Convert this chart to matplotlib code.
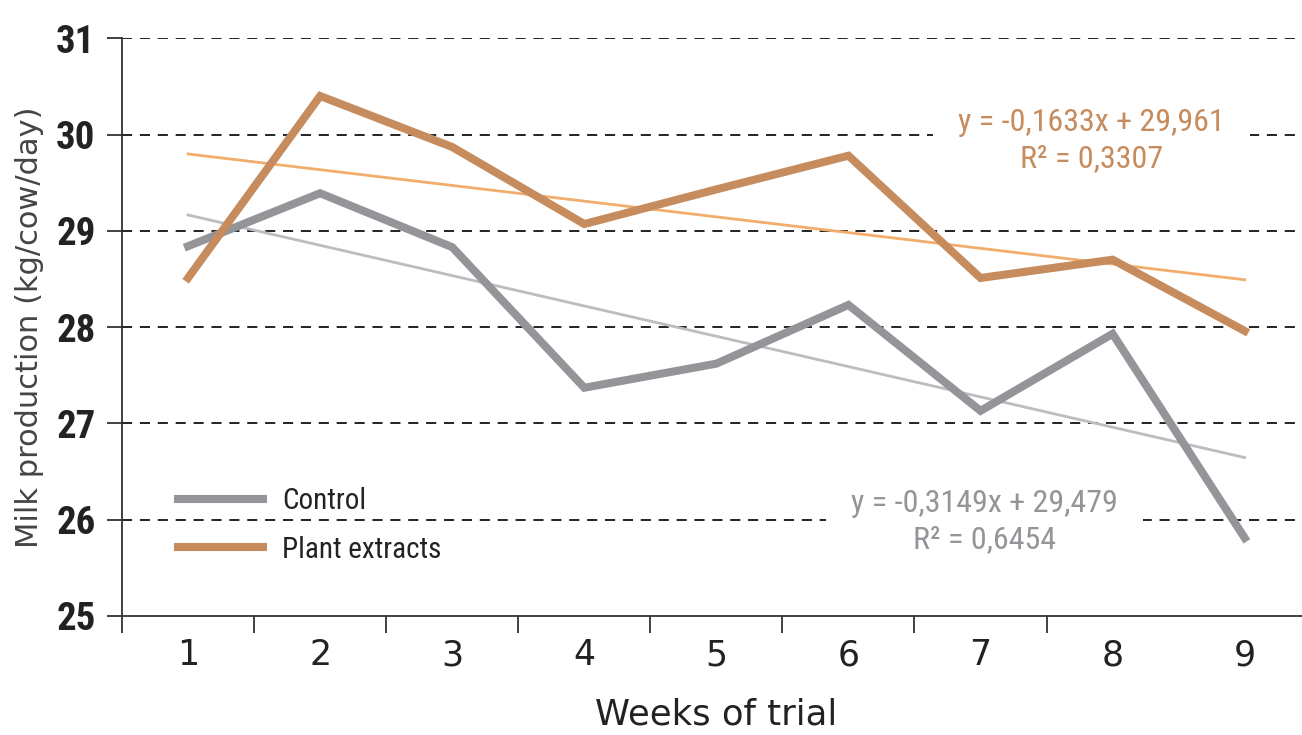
import numpy as np
import matplotlib
matplotlib.use("Agg")
import matplotlib.pyplot as plt

# data
weeks = [1, 2, 3, 4, 5, 6, 7, 8, 9]
control = [28.84, 29.39, 28.83, 27.37, 27.62, 28.23, 27.13, 27.93, 25.81]
plant = [28.51, 30.40, 29.87, 29.07, 29.43, 29.78, 28.51, 28.70, 27.96]

# trend line coefficients as printed on the chart
control_trend = (-0.3149, 29.479)
plant_trend = (-0.1633, 29.961)
control_label = "y = -0,3149x + 29,479\nR² = 0,6454"
plant_label = "y = -0,1633x + 29,961\nR² = 0,3307"

yticks = [25, 26, 27, 28, 29, 30, 31]

col_control = "#939598"
col_plant = "#C68C5E"
col_control_tr = "#BCBDC0"
col_plant_tr = "#F2AD6E"
narrow = ["Roboto Condensed", "Liberation Sans Narrow", "Roboto", "DejaVu Sans"]

fig = plt.figure(figsize=(13.02, 7.35), dpi=100)
ax = fig.add_axes([0.0937, 0.162, 0.913, 0.786])

x = np.array(weeks)
xt = np.array([x[0], x[-1]])
ax.plot(xt, control_trend[0] * xt + control_trend[1], color=col_control_tr, lw=2.0, zorder=3)
ax.plot(xt, plant_trend[0] * xt + plant_trend[1], color=col_plant_tr, lw=2.0, zorder=3)
ax.plot(x, control, color=col_control, lw=5.8, solid_joinstyle="miter", label="Control", zorder=4)
ax.plot(x, plant, color=col_plant, lw=5.8, solid_joinstyle="miter", label="Plant extracts", zorder=5)

# dashed horizontal gridlines
for v in yticks[1:]:
    ax.axhline(v, color="#222222", lw=1.4, dashes=(5.2, 4.0), zorder=1)

ax.set_xlim(0.5, 9.5)
ax.set_ylim(25, 31)
ax.set_yticks(yticks)
ax.set_yticklabels([str(v) for v in yticks], fontfamily=narrow, fontweight="bold", fontsize=28)
ax.set_xticks(weeks)
ax.set_xticklabels([str(w) for w in weeks], fontsize=25, color="#222222")
ax.set_xticks(np.arange(0.5, 8.0, 1.0), minor=True)
ax.tick_params(axis="x", which="major", length=0, pad=16)
ax.tick_params(axis="x", which="minor", length=12, width=1.3, color="#333333", direction="out")
ax.tick_params(axis="y", length=11, width=1.3, color="#333333", pad=8, labelcolor="#222222")

for s in ["top", "right"]:
    ax.spines[s].set_visible(False)
for s in ["left", "bottom"]:
    ax.spines[s].set_color("#333333")
    ax.spines[s].set_linewidth(1.3)

ax.set_xlabel("Weeks of trial", fontsize=25.5, color="#222222", labelpad=18)
ax.set_ylabel("Milk production (kg/cow/day)", fontsize=22, color="#444444", labelpad=9)

box = dict(facecolor="white", edgecolor="none", pad=18)
ax.text(7.84, 29.94, plant_label, ha="center", va="center", fontsize=23, color=col_plant,
        fontfamily=narrow, linespacing=1.3, bbox=box, zorder=2)
ax.text(7.03, 25.98, control_label, ha="center", va="center", fontsize=23, color=col_control,
        fontfamily=narrow, linespacing=1.3, bbox=box, zorder=2)

leg = ax.legend(loc="lower left", bbox_to_anchor=(0.025, 0.045), frameon=False,
                prop={"family": narrow, "size": 21},
                handlelength=2.9, handletextpad=0.68, labelspacing=0.7)
for t in leg.get_texts():
    t.set_color("#222222")

fig.savefig("out.png", dpi=100)
